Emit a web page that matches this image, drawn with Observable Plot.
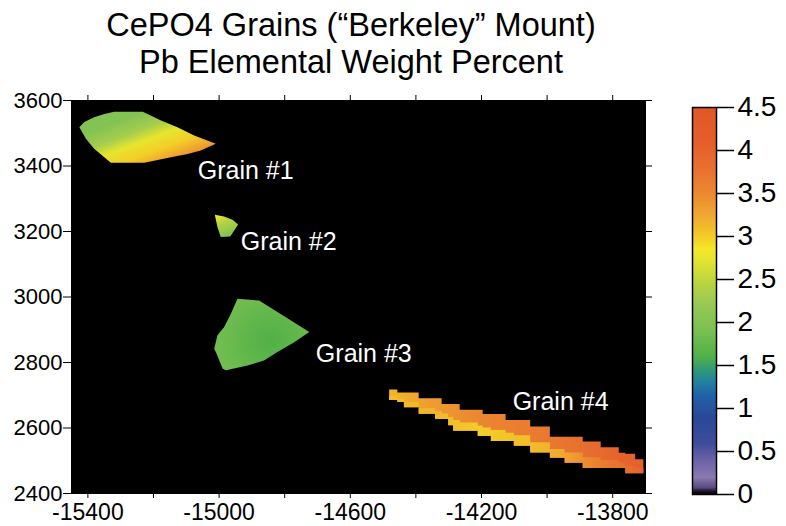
<!DOCTYPE html>
<html><head><meta charset="utf-8">
<script src="https://cdn.jsdelivr.net/npm/d3@7"></script>
<script src="https://cdn.jsdelivr.net/npm/@observablehq/plot@0.6"></script>
<style>
html,body{margin:0;padding:0;background:#fff;}
#wrap{position:relative;width:786px;height:526px;overflow:hidden;font-family:"Liberation Sans",Arial,Helvetica,sans-serif;}
#main{position:absolute;left:0;top:0;}
#cbar{position:absolute;left:680px;top:0;}
#title{position:absolute;left:0;top:7px;width:702px;text-align:center;font-size:32.5px;line-height:37px;color:#000;}
</style></head><body>
<div id="wrap"><div id="main"></div><div id="cbar"></div><div id="title">CePO4 Grains (“Berkeley” Mount)<br>Pb Elemental Weight Percent</div></div>
<script>
// ---- colour map (Pb wt%) ----
const cbStops  = [0, 0.04, 0.08, 0.2, 0.4, 0.6, 0.9, 1.15, 1.3, 1.45, 1.6, 1.9, 2.2, 2.45, 2.7, 2.85, 3.05, 3.25, 3.5, 3.8, 4.1, 4.5];
const cbColors = ["#000000","#1e1428","#5a4a80","#8a7ab0","#6c62a8","#3c4c9a","#2a4898","#2062a8","#2080a0","#309878","#50b048","#78c050","#98c858","#b8d440","#e0e430","#f5e828","#f2c428","#f0a830","#ec8a30","#e87030","#e45e2a","#e05828"];
const cbTicks  = [0, 0.5, 1, 1.5, 2, 2.5, 3, 3.5, 4, 4.5];

// ---- axes ----
const xTicksAll   = [-15400, -15200, -15000, -14800, -14600, -14400, -14200, -14000, -13800];
const xTickLabels = [-15400, -15000, -14600, -14200, -13800];
const yTicks      = [2400, 2600, 2800, 3000, 3200, 3400, 3600];

// ---- grain outlines (stage coordinates) ----
const g1X = [-15426, -15411, -15381, -15350, -15320, -15233, -15218, -15177, -15127, -15076, -15010, -15056, -15096, -15147, -15228, -15330, -15350, -15381, -15406];
const g1Y = [3518, 3534, 3549, 3559, 3566, 3566, 3559, 3539, 3518, 3493, 3468, 3447, 3437, 3427, 3410, 3410, 3427, 3453, 3483];

const g2X = [-15013, -14985, -14959, -14942, -14954, -14966, -14995, -15005];
const g2Y = [3251, 3246, 3236, 3221, 3203, 3185, 3183, 3213];

const g3X = [-14944, -14878, -14822, -14725, -14771, -14822, -14863, -14913, -14979, -14989, -15010, -15015, -15005, -14985, -14964];
const g3Y = [2995, 2989, 2954, 2893, 2862, 2832, 2806, 2791, 2776, 2781, 2832, 2842, 2883, 2908, 2949];

const g4X      = [-14480, -14455, -14435, -14390, -14340, -14320, -14300, -14285, -14265, -14210, -14195, -14170, -14125, -14100, -14050, -13990, -13945, -13890, -13835, -13780, -13760, -13730, -13705];
const g4Top    = [2716, 2707, 2707, 2689, 2689, 2672, 2672, 2672, 2654, 2654, 2641, 2641, 2623, 2623, 2603, 2572, 2572, 2557, 2540, 2523, 2520, 2503, 2503];
const g4Mid    = [2697, 2688, 2678, 2659, 2650, 2643, 2632, 2623, 2615, 2606, 2600, 2592, 2584, 2576, 2555, 2534, 2524, 2509, 2501, 2493, 2483, 2477, 2477];
const g4Bottom = [2684, 2678, 2662, 2642, 2626, 2626, 2607, 2590, 2590, 2574, 2574, 2559, 2559, 2544, 2524, 2508, 2492, 2476, 2476, 2476, 2460, 2460, 2460];

// ---- Pb values across each grain (gradient stops) ----
const g1From = [-15330, 3576], g1To = [-15255, 3375];
const g1Offsets = [0, 0.21, 0.43, 0.6, 0.79, 1];
const g1Values  = [2.0, 2.0, 2.3, 2.75, 3.0, 3.4];

const g2From = [-15005, 3249], g2To = [-14979, 3185];
const g2Offsets = [0, 0.4, 1];
const g2Values  = [2.8, 2.4, 2.0];

const g3Center = [-14845, 2865], g3Radius = 150;
const g3Offsets = [0, 0.5, 1];
const g3Values  = [1.6, 1.72, 1.85];

const g4UpperX      = [-14480, -14350, -14200, -14000, -13900, -13780, -13705];
const g4UpperValues = [3.15, 3.35, 3.55, 3.7, 3.8, 4.0, 4.05];
const g4LowerX      = [-14480, -14350, -14200, -14050, -13950, -13850, -13705];
const g4LowerValues = [3.1, 3.15, 3.0, 3.1, 3.25, 3.6, 4.0];

// ---- labels ----
const labelText = ["Grain #1", "Grain #2", "Grain #3", "Grain #4"];
const labelX = [-15065, -14934, -14705, -14105];
const labelY = [3385, 3168, 2826, 2680];

const colorOpts = {type: "linear", domain: cbStops, range: cbColors, interpolate: "rgb"};
const font = "'Liberation Sans', Arial, Helvetica, sans-serif";

const chart = Plot.plot({
  width: 786, height: 526,
  marginLeft: 71, marginRight: 141, marginTop: 100, marginBottom: 33,
  x: {domain: [-15450, -13700]},
  y: {domain: [2400, 3600]},
  style: {background: "transparent", fontFamily: font, color: "black", overflow: "visible"},
  marks: [
    Plot.frame({fill: "black"}),
    Plot.line({length: g1X.length}, {x: g1X, y: g1Y, fill: "url(#g1)", stroke: "none"}),
    Plot.line({length: g2X.length}, {x: g2X, y: g2Y, fill: "url(#g2)", stroke: "none"}),
    Plot.line({length: g3X.length}, {x: g3X, y: g3Y, fill: "url(#g3)", stroke: "none"}),
    Plot.areaY({length: g4X.length}, {x: g4X, y1: g4Bottom, y2: g4Top, curve: "step-after", fill: "url(#g4a)"}),
    Plot.areaY({length: g4X.length}, {x: g4X, y1: g4Bottom, y2: g4Mid, curve: "step-after", fill: "url(#g4b)"}),
    Plot.text(labelText, {x: labelX, y: labelY, text: d => d, fill: "white", fontSize: 25, textAnchor: "start"}),
    Plot.axisY(yTicks, {tickSize: 8, tickPadding: 1, fontSize: 22, tickFormat: d => String(d), label: null}),
    Plot.axisY(yTicks, {anchor: "right", tickSize: 6, tickFormat: () => "", label: null}),
    Plot.axisX(xTicksAll, {tickSize: 5, tickPadding: 5, fontSize: 23, tickFormat: d => xTickLabels.includes(d) ? String(d) : "", label: null}),
    Plot.axisX(xTicksAll, {anchor: "top", tickSize: 6, tickFormat: () => "", label: null}),
    Plot.frame({stroke: "black"})
  ]
});

// gradients built from the value arrays through the colour scale
const xs = chart.scale("x"), ys = chart.scale("y");
const cs = Plot.scale({color: colorOpts});
const NS = "http://www.w3.org/2000/svg";
const defs = document.createElementNS(NS, "defs");
function addStops(g, offsets, values) {
  offsets.forEach((o, i) => {
    const s = document.createElementNS(NS, "stop");
    s.setAttribute("offset", o);
    s.setAttribute("stop-color", cs.apply(values[i]));
    g.appendChild(s);
  });
}
function linear(id, from, to, offsets, values) {
  const g = document.createElementNS(NS, "linearGradient");
  g.setAttribute("id", id);
  g.setAttribute("gradientUnits", "userSpaceOnUse");
  g.setAttribute("x1", xs.apply(from[0])); g.setAttribute("y1", ys.apply(from[1]));
  g.setAttribute("x2", xs.apply(to[0]));   g.setAttribute("y2", ys.apply(to[1]));
  addStops(g, offsets, values);
  defs.appendChild(g);
}
function alongX(id, stopX, values) {
  const a = stopX[0], b = stopX[stopX.length - 1];
  const offsets = stopX.map(x => (x - a) / (b - a));
  linear(id, [a, 2600], [b, 2600], offsets, values);
}
linear("g1", g1From, g1To, g1Offsets, g1Values);
linear("g2", g2From, g2To, g2Offsets, g2Values);
{
  const g = document.createElementNS(NS, "radialGradient");
  g.setAttribute("id", "g3");
  g.setAttribute("gradientUnits", "userSpaceOnUse");
  g.setAttribute("cx", xs.apply(g3Center[0])); g.setAttribute("cy", ys.apply(g3Center[1]));
  g.setAttribute("r", xs.apply(g3Center[0] + g3Radius) - xs.apply(g3Center[0]));
  addStops(g, g3Offsets, g3Values);
  defs.appendChild(g);
}
alongX("g4a", g4UpperX, g4UpperValues);
alongX("g4b", g4LowerX, g4LowerValues);
chart.insertBefore(defs, chart.firstChild);
document.getElementById("main").appendChild(chart);

// colour bar
const cbar = Plot.plot({
  width: 106, height: 526,
  marginLeft: 12, marginRight: 70, marginTop: 107, marginBottom: 32,
  x: {domain: [0, 1], axis: null},
  y: {domain: [0, 4.5]},
  color: colorOpts,
  style: {background: "transparent", fontFamily: font, color: "black", overflow: "visible"},
  marks: [
    Plot.raster({x1: 0, x2: 1, y1: 0, y2: 4.5, fill: (x, y) => y}),
    Plot.frame({stroke: "black", strokeWidth: 1.5}),
    Plot.axisY(cbTicks, {anchor: "right", tickSize: 17, tickPadding: 4, fontSize: 28, strokeWidth: 1.5, tickFormat: d => String(d), label: null})
  ]
});
document.getElementById("cbar").appendChild(cbar);
</script>
</body></html>
